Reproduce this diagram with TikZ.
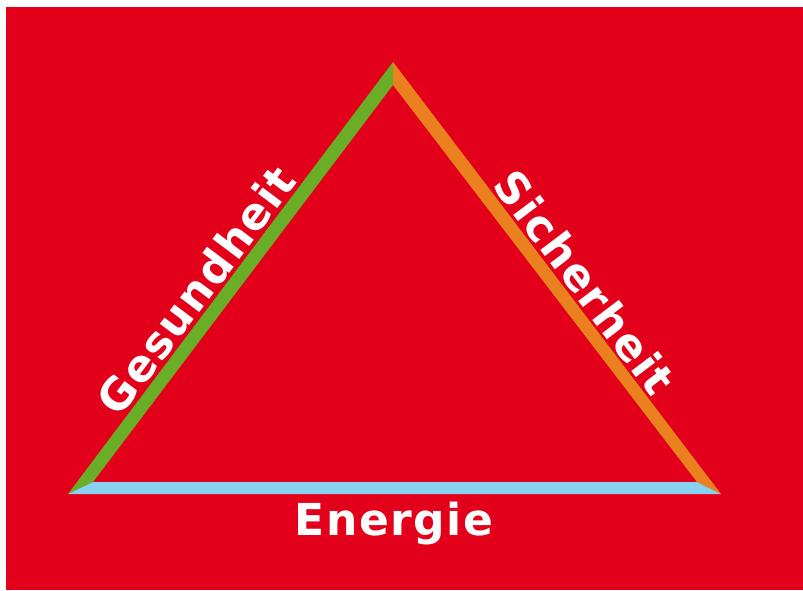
\documentclass[tikz,border=0pt]{standalone}
\usepackage{fontspec}
\setmainfont{DejaVu Sans}
\usepackage{tikz}
\usetikzlibrary{calc}

\definecolor{bgred}{RGB}{226,0,26}
\definecolor{healthgreen}{RGB}{106,174,40}
\definecolor{safeorange}{RGB}{235,128,30}
\definecolor{energyblue}{RGB}{135,210,240}

\begin{document}
\begin{tikzpicture}[
  x=1pt, y=-1pt,
  sidetext/.style={text=white, inner sep=0pt, anchor=base,
    font=\fontsize{44}{50}\selectfont\bfseries\addfontfeature{LetterSpace=3.4}}
]
\useasboundingbox (0,0) rectangle (803,590);
\fill[bgred] (6,7) rectangle (803,590);

% outer and inner corners of the triangle
\coordinate (ol) at (68,494);
\coordinate (ot) at (393,62);
\coordinate (or) at (721,494);
\coordinate (il) at (93,482);
\coordinate (it) at (393,85);
\coordinate (ir) at (697,482);

% the three sides, mitred at the corners
\fill[healthgreen] (ol) -- (ot) -- (it) -- (il) -- cycle;
\fill[safeorange] (ot) -- (or) -- (ir) -- (it) -- cycle;
\fill[energyblue] (ol) -- (il) -- (ir) -- (or) -- cycle;

\node[sidetext, rotate=53.05] (gesund) at (209,300) {Gesundheit};
\node[sidetext, rotate=-52.9] (sicher) at (572,292) {Sicherheit};
\node[sidetext] (energie) at (394,535) {Energie};
\end{tikzpicture}
\end{document}
